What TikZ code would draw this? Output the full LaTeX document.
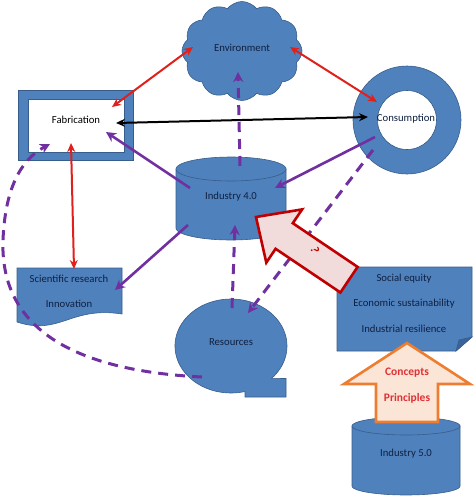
\documentclass[tikz,border=0pt]{standalone}
\usepackage{fontspec}
\setmainfont{Carlito}
\usetikzlibrary{arrows.meta,shapes.symbols}
\definecolor{ofblue}{HTML}{4F81BD}
\definecolor{ofedge}{HTML}{385D8A}
\definecolor{ofdark}{HTML}{3A639A}
\definecolor{txt}{HTML}{10203F}
\definecolor{pur}{HTML}{7030A0}
\definecolor{rd}{HTML}{E0201A}
\definecolor{bigred}{HTML}{C00000}
\definecolor{arrowpink}{HTML}{F2DCDB}
\definecolor{orng}{HTML}{ED7D31}
\definecolor{peach}{HTML}{FBE5D6}
\definecolor{cptred}{HTML}{E03035}
\tikzset{
  redtip/.tip={Stealth[length=9pt,width=8pt]},
  purtip/.tip={Stealth[length=10pt,width=10pt]}
}
\begin{document}
\begin{tikzpicture}[x=1pt,y=-1pt,
  shp/.style={fill=ofblue,draw=ofedge,line width=0.6pt},
  lbl/.style={text=txt,font=\fontsize{10.7}{12}\selectfont,inner sep=0pt},
  redlink/.style={draw=rd,line width=2pt},
  blacklink/.style={draw=black,line width=2pt},
  purlink/.style={draw=pur,line width=2.6pt},
  purdash/.style={draw=pur,line width=3pt,dash pattern=on 10pt off 7pt},
  bigarrow/.style={fill=arrowpink,draw=bigred,line width=2.6pt,line join=miter},
  orarrow/.style={fill=peach,draw=orng,line width=2.6pt,line join=miter},
  cpt/.style={text=cptred,font=\bfseries\fontsize{11.5}{13}\selectfont,inner sep=0pt}
]
\useasboundingbox (0,0) rectangle (474,496);

% Environment cloud
\node[cloud, cloud puffs=12, cloud puff arc=105, aspect=1.2, shp,
      minimum width=120pt, minimum height=99pt, inner sep=0pt] (envshape) at (242,51) {};
\node[lbl] (env) at (242,48) {Environment};

% Fabrication frame
\fill[shp] (18,90) rectangle (133,160);
\fill[white,draw=ofedge,line width=0.6pt] (28,99) rectangle (124,152);
\node[lbl,text=black] (fab) at (76,120) {Fabrication};

% Consumption donut
\fill[shp,even odd rule] (407,120) circle[radius=54] (407,120) circle[radius=29.5];
\node[lbl] (con) at (406,119) {Consumption};

% Industry 4.0 cylinder
\filldraw[shp] (176,169) -- (176,228)
   -- plot[domain=180:0,samples=40] ({231+55*cos(\x)},{228+12*sin(\x)})
   -- (286,169) -- cycle;
\filldraw[shp] plot[domain=0:360,samples=60] ({231+55*cos(\x)},{169+12*sin(\x)}) -- cycle;
\node[lbl] (ind4) at (231,197) {Industry 4.0};

% Scientific research document
\filldraw[shp] (17,268) -- (122,268) -- (122,314)
   .. controls (70,306) and (60,336) .. (17,322) -- cycle;
\node[lbl] (sci) at (69,279) {Scientific research};
\node[lbl] (inno) at (69,304) {Innovation};

% Resources callout
\filldraw[shp] plot[domain=75.5:403.5,samples=90] ({231+56*cos(\x)},{346+47*sin(\x)})
   -- (286,378.5) -- (286,397) -- (245,397) -- cycle;
\node[lbl] (res) at (231,342) {Resources};

% Social equity document (folded corner)
\filldraw[shp] (337,267) -- (472,267) -- (472,337) -- (456,351) -- (337,351) -- cycle;
\filldraw[fill=ofdark,draw=ofedge,line width=0.6pt] (472,337) -- (456,351) -- (459,340) -- cycle;
\node[lbl] (soc) at (404,279) {Social equity};
\node[lbl] (eco) at (404,304) {Economic sustainability};
\node[lbl] (resil) at (404,329) {Industrial resilience};

% Industry 5.0 cylinder
\filldraw[shp] (352,426) -- (352,486)
   -- plot[domain=180:0,samples=40] ({406+54*cos(\x)},{486+9*sin(\x)})
   -- (460,426) -- cycle;
\filldraw[shp] plot[domain=0:360,samples=60] ({406+54*cos(\x)},{426+9*sin(\x)}) -- cycle;
\node[lbl] (ind5) at (406,454) {Industry 5.0};

% connector end points
\coordinate (envFab) at (193,47);  \coordinate (fabEnv) at (112,107);
\coordinate (envCon) at (290,47);  \coordinate (conEnv) at (377,102);
\coordinate (fabCon) at (116,123); \coordinate (conFab) at (368,117);
\coordinate (fabSci) at (71,143);  \coordinate (sciFab) at (74,269);
\coordinate (indEnv) at (240,166); \coordinate (envInd) at (238,72);
\coordinate (indFab) at (190,188); \coordinate (fabInd) at (106,132);
\coordinate (conInd) at (375,137); \coordinate (indCon) at (275,188);
\coordinate (indSci) at (188,225); \coordinate (sciInd) at (115,290);
\coordinate (resInd) at (232,308); \coordinate (indRes) at (235,225);
\coordinate (conRes) at (373,150); \coordinate (resCon) at (248,313);
\coordinate (resFab) at (202,377); \coordinate (fabRes) at (50,144);

% red links
\draw[redlink,redtip-redtip] (envFab) -- (fabEnv);
\draw[redlink,redtip-redtip] (envCon) -- (conEnv);
\draw[redlink,redtip-redtip] (fabSci) -- (sciFab);
% black link
\draw[blacklink,redtip-redtip] (fabCon) -- (conFab);
% purple links
\draw[purlink,-purtip] (indFab) -- (fabInd);
\draw[purlink,-purtip] (conInd) -- (indCon);
\draw[purlink,-purtip] (indSci) -- (sciInd);
\draw[purdash,-purtip] (indEnv) -- (envInd);
\draw[purdash,-purtip] (resInd) -- (indRes);
\draw[purdash,-purtip] (conRes) -- (resCon);
\draw[purdash,-purtip] (resFab) .. controls (60,370) and (0,320) .. (3,240)
   .. controls (5,190) and (20,160) .. (fabRes);

% big red arrow
\filldraw[bigarrow] (256,217) -- (302.1,209.4) -- (292.8,223.2) -- (357.6,266.9)
   -- (340.4,292.5) -- (275.6,248.8) -- (266.3,262.6) -- cycle;
\node[text=bigred,font=\bfseries\fontsize{12}{14}\selectfont,rotate=-75,inner sep=0pt] (q) at (315,250) {?};

% orange arrow
\filldraw[orarrow] (407,343) -- (470,384) -- (438,384) -- (438,422) -- (376,422)
   -- (376,384) -- (344,384) -- cycle;
\node[cpt] (concepts) at (407,373) {Concepts};
\node[cpt] (principles) at (407,398) {Principles};
\end{tikzpicture}
\end{document}
